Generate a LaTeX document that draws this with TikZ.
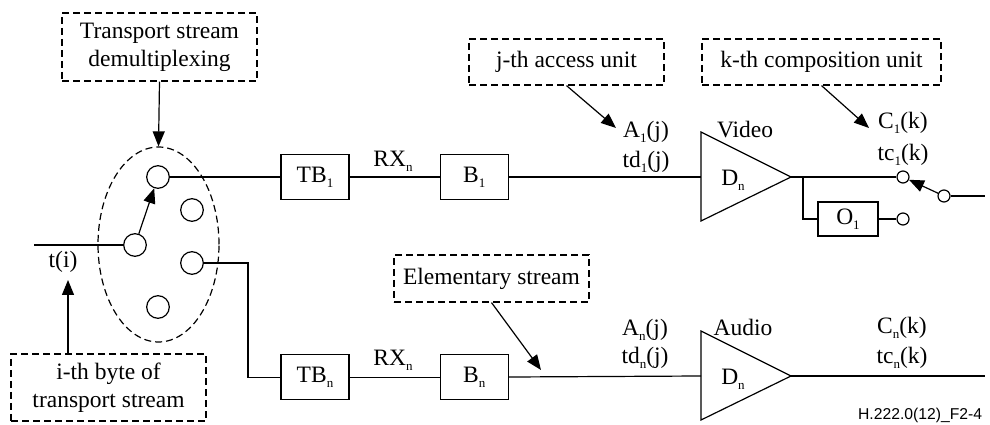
\documentclass[tikz,border=0pt]{standalone}
\usepackage{fontspec}
\setmainfont{Liberation Serif}
\newfontfamily\figfont{Liberation Sans}
\usetikzlibrary{shapes,arrows.meta,positioning}
\newcommand{\lo}[1]{\raisebox{-0.45ex}{\fontsize{13}{13}\selectfont #1}}

\begin{document}
\begin{tikzpicture}[x=1pt, y=1pt, line width=1.2pt, node distance=90pt,
    every node/.style={font=\fontsize{23.5}{28}\selectfont},
    blk/.style={draw, rectangle, minimum width=68pt, minimum height=45pt, inner sep=0pt},
    note/.style={draw, rectangle, dash pattern=on 7pt off 4pt, minimum width=195pt, minimum height=46pt, align=center, inner sep=0pt},
    port/.style={draw, circle, minimum size=22.6pt, inner sep=0pt},
    pin/.style={draw, circle, minimum size=12pt, inner sep=0pt},
    arr/.style={-{Triangle[length=15pt,width=12pt]}}]
    \useasboundingbox (0,0) rectangle (990,425);

    \node (demux) [note, minimum height=68pt] at (159.5,378) {Transport stream\\demultiplexing};
    \node (sw) [draw, ellipse, dash pattern=on 7pt off 4pt, minimum width=121pt, minimum height=195pt] at (158.5,180.5) {};
    \node (cone) [port] at (158,248) {};
    \node (ctwo) [port] at (192,215) {};
    \node (cin) [port] at (135,180) {};
    \node (cthree) [port] at (192,162) {};
    \node (cfour) [port] at (158,118) {};
    \coordinate (tin) at (34,180);
    \coordinate (drop) at (248,162);
    \node (ti) at (63,163) {t(i)};
    \node (byte) [note, minimum height=67pt] at (108.5,37.5) {i-th byte of\\transport stream};
    \coordinate (tiup) at (68,145);

    \node (tbone) [blk] at (315,248) {TB\lo{1}};
    \node (bone) [blk, right=of tbone] {B\lo{1}};
    \node (tbn) [blk, below=154pt of tbone] {TB\lo{n}};
    \node (bn) [blk, right=of tbn] {B\lo{n}};
    \node (rxone) at (393,264) {RX\lo{n}};
    \node (rxn) at (393,65) {RX\lo{n}};

    \coordinate (vin) at (701,248);
    \coordinate (vout) at (791,248);
    \draw ([yshift=45pt]vin) -- ([yshift=-44pt]vin) -- (vout) -- cycle;
    \node (dv) at (733,245) {D\lo{n}};
    \node (video) at (745,295) {Video};
    \node (aone) at (646,293) {A\lo{1}(j)};
    \node (tdone) at (646,263) {td\lo{1}(j)};
    \node (access) [note] at (566.5,363) {j-th access unit};
    \coordinate (atip) at (616,297);
    \node (comp) [note, minimum width=239pt] at (821.5,363) {k-th composition unit};
    \coordinate (ctip) at (869,297);
    \node (cone k) at (903,302) {C\lo{1}(k)};
    \node (tcone) at (903,270) {tc\lo{1}(k)};
    \node (sone) [pin] at (903,248) {};
    \node (stwo) [pin] at (944,229) {};
    \coordinate (vend) at (985,229);
    \coordinate (tap) at (803,248);
    \node (oone) [blk, minimum width=60pt, minimum height=34pt] at (848,206) {O\lo{1}};
    \node (sthree) [pin] at (903,206) {};

    \coordinate (ain) at (701,49);
    \coordinate (aout) at (791,49);
    \draw ([yshift=45pt]ain) -- ([yshift=-44pt]ain) -- (aout) -- cycle;
    \node (da) at (733,46) {D\lo{n}};
    \node (audio) at (743,98) {Audio};
    \node (an) at (645,95) {A\lo{n}(j)};
    \node (tdn) at (645,67) {td\lo{n}(j)};
    \node (cn) at (902,97) {C\lo{n}(k)};
    \node (tcn) at (902,67) {tc\lo{n}(k)};
    \coordinate (aend) at (985,49);
    \node (elem) [note, minimum height=47pt] at (491.5,146.5) {Elementary stream};
    \coordinate (elemtip) at (541,55);
    \node (fig) [anchor=east, font=\figfont\fontsize{15.7}{18}\selectfont] at (986,10) {H.222.0(12)\_F2-4};

    \draw[arr] (demux.south) -- (sw.north);
    \draw (tin) -- (cin);
    \draw[arr] (byte.north -| tiup) -- (tiup);
    \draw[arr] (cin) -- (cone);
    \draw (cone) -- (tbone);
    \draw (tbone) -- (bone);
    \draw (bone) -- (vin);
    \draw (vout) -- (sone);
    \draw[arr] (stwo) -- (sone);
    \draw (stwo) -- (vend);
    \draw (tap) |- (oone);
    \draw (oone) -- (sthree);
    \draw[arr] (access.south) -- (atip);
    \draw[arr] (comp.south) -- (ctip);
    \draw (cthree) -- (drop) |- (tbn);
    \draw (tbn) -- (bn);
    \draw (bn) -- (ain);
    \draw (aout) -- (aend);
    \draw[arr] (elem.south) -- (elemtip);
\end{tikzpicture}
\end{document}
